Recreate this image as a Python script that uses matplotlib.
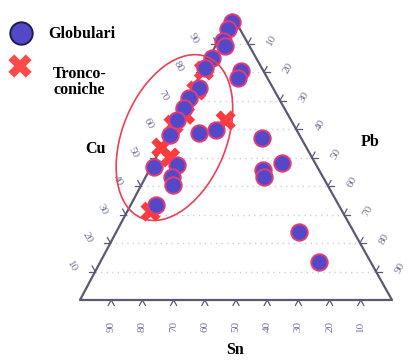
import numpy as np
import matplotlib.pyplot as plt
from matplotlib.patches import Ellipse

# compositions in percent (Cu, Sn, Pb)
glob_cu = [97.5, 95, 91, 89, 85, 81.5, 74.5, 71, 67.5, 63, 58, 58.5, 59.5, 80.5, 78,
           57, 46.5, 47.5, 43, 40.5, 33.5, 48, 45.5, 43, 24, 13.5]
glob_sn = [1.3, 4, 7.5, 8, 14, 18, 23.5, 28.5, 32, 36.5, 41.5, 32, 26, 7, 9.5,
           12.5, 52.5, 44.5, 48.5, 49.5, 58.5, 10.5, 18, 19, 17.5, 16.5]
glob_pb = [1.2, 1, 1.5, 3, 1, 0.5, 2, 0.5, 0.5, 0.5, 0.5, 9.5, 14.5, 12.5, 12.5,
           30.5, 1, 8, 8.5, 10, 8, 41.5, 36.5, 38, 58.5, 70]

tronco_cu = [80.5, 73.5, 65, 61.5, 53.5, 50, 63, 31]
tronco_sn = [19, 25, 33, 38.5, 46.5, 45.5, 21, 61.5]
tronco_pb = [0.5, 1.5, 2, 0, 0, 4.5, 16, 7.5]

tick_values = [10, 20, 30, 40, 50, 60, 70, 80, 90]

# triangle corners in figure pixels: Cu on top, Sn bottom left, Pb bottom right
TOP = (232, 15)
BL = (80, 300)
BR = (392, 300)


def tern(cu, sn, pb):
    cu = np.asarray(cu, float)
    sn = np.asarray(sn, float)
    pb = np.asarray(pb, float)
    tot = cu + sn + pb
    x = (cu * TOP[0] + sn * BL[0] + pb * BR[0]) / tot
    y = (cu * TOP[1] + sn * BL[1] + pb * BR[1]) / tot
    return x, y


fig = plt.figure(figsize=(4.09, 3.61), dpi=100)
ax = fig.add_axes([0, 0, 1, 1])
ax.set_xlim(0, 409)
ax.set_ylim(361, 0)
ax.axis('off')

serif = ['Liberation Serif', 'DejaVu Serif']
tick_col = '#737396'
edge_col = '#5c5870'

# dotted grid (constant Cu)
for v in tick_values:
    x, y = tern([v, v], [100 - v, 0], [0, 100 - v])
    ax.plot(x, y, color='#cfcfdc', lw=1, ls=(0, (1, 3)), zorder=1)

# triangle
tx, ty = tern([100, 0, 0, 100], [0, 100, 0, 0], [0, 0, 100, 0])
ax.plot(tx, ty, color=edge_col, lw=1.6, zorder=2)

L = 6
for v in tick_values:
    # left edge (Cu)
    x, y = tern(v, 100 - v, 0)
    ax.plot([x, x - L], [y, y], color=edge_col, lw=0.9)
    ax.plot([x, x - L * 0.5], [y, y - L * 0.9], color=edge_col, lw=0.9)
    ax.text(x - 23, y - 5, str(v), fontsize=8, color=tick_col, rotation=-60,
            ha='center', va='center', family=serif)
    # right edge (Pb)
    x, y = tern(100 - v, 0, v)
    ax.plot([x, x + L], [y, y], color=edge_col, lw=0.9)
    ax.plot([x, x + L * 0.5], [y, y - L * 0.9], color=edge_col, lw=0.9)
    ax.text(x + 24, y - 4, str(v), fontsize=8, color=tick_col, rotation=60,
            ha='center', va='center', family=serif)
    # bottom edge (Sn)
    x, y = tern(0, v, 100 - v)
    ax.plot([x, x - L * 0.5], [y, y + L * 0.9], color=edge_col, lw=0.9)
    ax.plot([x, x + L * 0.5], [y, y + L * 0.9], color=edge_col, lw=0.9)
    ax.text(x, y + 26, str(v), fontsize=8, color=tick_col, rotation=90,
            ha='center', va='center', family=serif)

# data
xt, yt = tern(tronco_cu, tronco_sn, tronco_pb)
ax.scatter(xt, yt, marker='X', s=210, color='#ff3c3c', edgecolor='none', zorder=3)
xg, yg = tern(glob_cu, glob_sn, glob_pb)
ax.scatter(xg, yg, marker='o', s=140, color='#5248c8', edgecolor='#e23c78',
           linewidth=1.4, zorder=4)

# grouping ellipse
ex, ey = tern(57, 40.5, 2.5)
ax.add_patch(Ellipse((ex, ey), 174, 104, angle=-67.8, fill=False,
                     edgecolor='#e8405a', lw=1.2, zorder=5))

# axis names
ax.text(95, 149, 'Cu', fontsize=11.5, fontweight='bold', family=serif,
        ha='center', va='center')
ax.text(370, 142, 'Pb', fontsize=11.5, fontweight='bold', family=serif,
        ha='center', va='center')
ax.text(235, 350, 'Sn', fontsize=11.5, fontweight='bold', family=serif,
        ha='center', va='center')

# legend
ax.scatter([21], [33], marker='o', s=260, color='#5248c8', edgecolor='#1c1c50',
           linewidth=1.4)
ax.scatter([20], [66], marker='X', s=280, color='#ff4a4a', edgecolor='none')
ax.text(48, 34, 'Globulari', fontsize=11.5, fontweight='bold', family=serif,
        va='center')
ax.text(53, 82, 'Tronco-\nconiche', fontsize=11.5, fontweight='bold', family=serif,
        va='center', linespacing=1.0)

fig.savefig('out.png', dpi=100)
